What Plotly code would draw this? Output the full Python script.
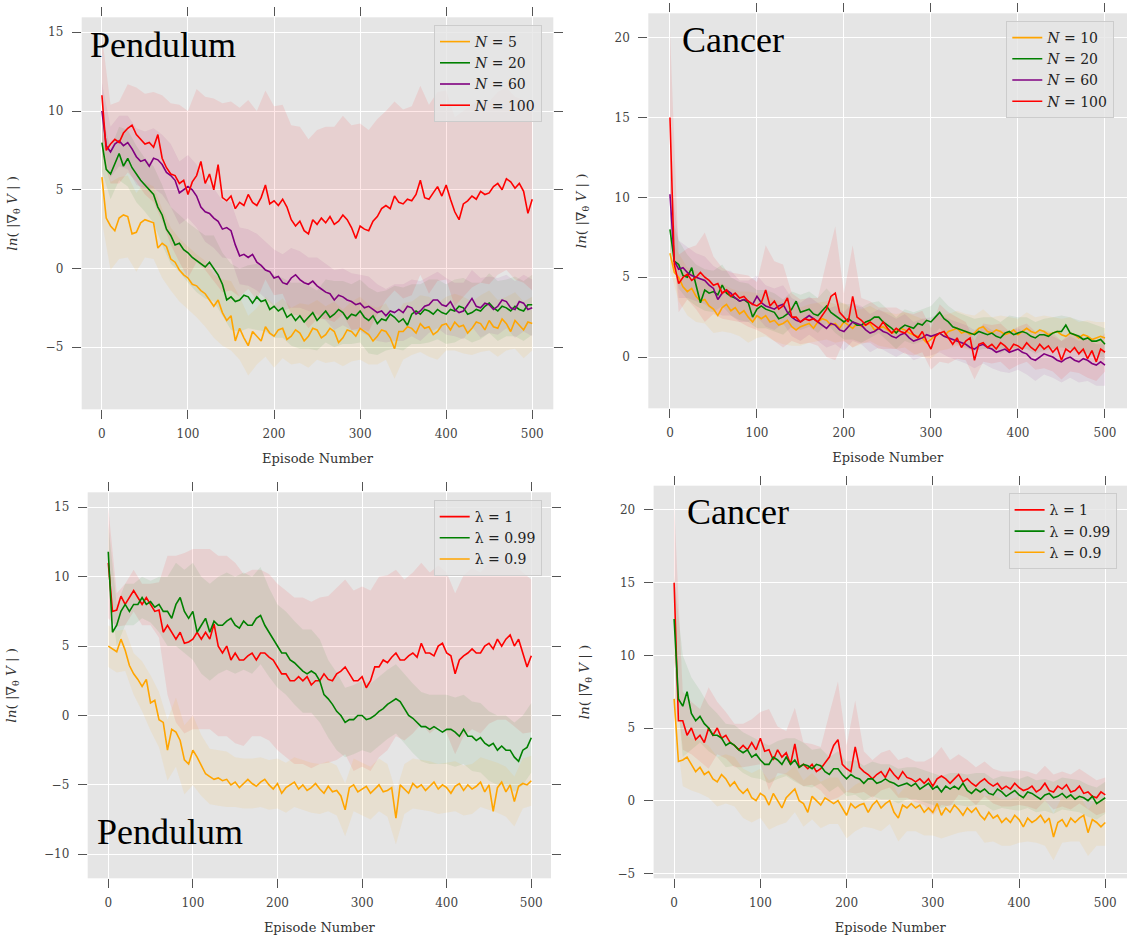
import plotly.graph_objects as go

# ---------------- data ----------------
episodes = list(range(0, 501, 5))          # line samples
band_episodes = list(range(0, 501, 10))    # band samples

# Pendulum, varying N
pend_n5 = [5.8, 3.2, 2.7, 2.4, 3.2, 3.4, 3.3, 2.2, 2.3, 2.9,
           3.1, 3.0, 2.9, 1.3, 1.6, 1.4, 0.6, 0.4, -0.1, -0.4,
           -0.6, -1.0, -1.1, -1.4, -1.6, -2.0, -2.4, -2.0, -2.8, -3.3,
           -3.0, -4.6, -3.8, -4.4, -4.9, -4.0, -4.3, -4.6, -3.7, -4.1,
           -4.3, -3.9, -3.8, -4.5, -4.3, -3.9, -4.1, -4.6, -4.3, -3.8,
           -3.9, -4.4, -4.2, -3.8, -4.0, -4.7, -4.4, -3.9, -4.0, -4.3,
           -3.8, -4.0, -4.2, -4.6, -4.3, -3.9, -4.0, -4.4, -5.1, -4.0,
           -4.0, -3.7, -3.8, -4.1, -3.5, -3.8, -3.7, -4.2, -4.0, -3.6,
           -3.5, -3.9, -3.4, -3.7, -3.6, -4.1, -3.8, -3.4, -3.5, -3.9,
           -3.3, -3.7, -3.8, -3.2, -3.5, -4.0, -3.3, -3.6, -3.9, -3.4,
           -3.5]
pend_n20 = [8.0, 6.3, 6.0, 6.6, 7.3, 6.5, 7.0, 6.4, 6.0, 5.6,
            5.3, 5.0, 4.7, 3.9, 3.4, 2.5, 2.1, 1.5, 1.6, 1.2,
            1.0, 0.7, 0.5, 0.3, 0.1, 0.4, 0.0, -0.4, -1.0, -2.0,
            -1.8, -2.1, -2.0, -1.7, -1.8, -2.2, -1.8, -2.1, -2.0, -2.6,
            -2.4, -2.7, -2.5, -3.1, -2.9, -3.3, -3.0, -3.4, -3.1, -2.8,
            -3.3, -3.0, -2.7, -3.1, -2.9, -2.6, -2.8, -3.2, -2.9, -3.0,
            -2.7, -3.1, -3.3, -3.0, -3.5, -3.2, -3.3, -2.9, -3.1, -3.4,
            -3.2, -3.6, -2.9, -2.7, -2.9, -2.6, -2.7, -2.9, -2.6, -2.8,
            -2.9, -2.6, -2.7, -2.4, -2.5, -2.9, -2.8, -2.6, -2.7, -2.4,
            -2.2, -2.5, -2.7, -2.4, -2.5, -2.7, -2.4, -2.6, -2.7, -2.3,
            -2.3]
pend_n60 = [10.0, 7.8, 7.4, 7.9, 8.1, 7.8, 8.0, 7.6, 7.1, 6.8,
            6.9, 6.5, 7.0, 6.9, 6.6, 6.1, 5.9, 5.6, 4.8, 5.0,
            5.2, 5.0, 4.6, 3.9, 3.6, 3.5, 3.2, 3.0, 2.5, 2.6,
            2.4, 1.5, 0.8, 0.9, 0.7, 0.9, 0.4, 0.2, -0.1, -0.2,
            -0.6, -0.5, -0.9, -1.0, -0.6, -0.4, -0.7, -0.9, -1.0, -0.8,
            -1.1, -1.3, -1.5, -1.6, -2.0, -1.7, -1.8, -2.0, -2.1, -2.3,
            -2.2, -2.5, -2.4, -2.6, -2.8, -2.7, -3.0, -2.7, -2.8, -2.6,
            -2.8, -2.4, -2.5, -2.9, -2.7, -2.4, -2.3, -2.0, -2.0, -2.3,
            -2.4, -2.1, -2.6, -2.8, -2.7, -2.3, -1.9, -2.4, -2.5, -2.2,
            -2.3, -2.6, -2.4, -2.0, -2.1, -2.5, -2.6, -2.1, -2.2, -2.6,
            -2.5]
pend_n100 = [11.0, 7.5, 7.9, 8.2, 8.0, 8.6, 8.9, 9.1, 8.5, 8.2,
             7.9, 8.0, 7.7, 8.5, 7.0, 6.4, 6.0, 5.9, 5.4, 5.6,
             4.7, 5.5, 5.9, 6.8, 5.4, 6.0, 5.0, 6.6, 4.5, 4.3,
             4.6, 3.8, 4.2, 4.0, 4.7, 4.2, 4.0, 4.5, 5.3, 4.1,
             4.3, 4.0, 4.4, 3.9, 3.1, 2.7, 3.0, 2.4, 2.2, 3.1,
             2.8, 3.2, 2.9, 3.3, 2.8, 3.0, 3.4, 3.1, 2.6, 1.9,
             2.7, 2.5, 2.4, 3.0, 3.3, 3.8, 4.0, 3.8, 4.6, 4.2,
             4.1, 4.4, 4.3, 4.7, 5.6, 4.5, 4.4, 4.8, 5.2, 4.6,
             5.3, 4.4, 3.6, 3.1, 4.1, 4.3, 4.6, 4.4, 4.9, 4.7,
             4.8, 5.2, 5.4, 5.0, 5.7, 5.5, 5.1, 5.4, 4.9, 3.5,
             4.4]
sd_pend_n5 = [2.8, 2.8, 2.6, 2.6, 2.5, 2.4, 2.3, 2.2, 2.0, 2.0,
              2.0, 2.0, 2.1, 2.0, 2.1, 2.2, 2.0, 1.9, 1.8, 1.9,
              2.0, 1.9, 1.8, 1.9, 2.0, 1.9, 1.8, 1.9, 1.8, 1.9,
              2.0, 1.9, 1.8, 1.8, 1.9, 1.8, 1.7, 1.8, 1.9, 1.8,
              1.7, 1.8, 1.8, 1.7, 1.8, 1.9, 1.8, 1.7, 1.8, 1.8, 1.7]
sd_pend_n20 = [1.8, 1.6, 1.7, 1.8, 1.8, 1.7, 1.8, 1.9, 1.8, 1.8,
               1.9, 2.0, 2.0, 2.1, 2.0, 2.1, 2.0, 2.0, 2.1, 2.0,
               2.0, 1.9, 2.0, 2.1, 2.0, 1.9, 2.0, 2.1, 2.0, 1.9,
               2.0, 2.1, 2.0, 1.9, 2.0, 2.0, 1.9, 1.9, 2.0, 1.9,
               1.9, 2.0, 1.9, 1.9, 1.8, 1.9, 1.9, 1.8, 1.9, 1.9, 1.9]
sd_pend_n60 = [1.8, 1.6, 1.6, 1.7, 1.8, 1.8, 1.9, 1.9, 2.0, 2.0,
               2.0, 2.0, 1.9, 1.9, 1.8, 1.8, 1.8, 1.8, 1.8, 1.8,
               1.8, 1.8, 1.9, 1.8, 1.7, 1.8, 1.8, 1.9, 1.8, 1.8,
               1.8, 1.9, 1.8, 1.7, 1.8, 1.8, 1.8, 1.9, 1.8, 1.8,
               1.8, 1.7, 1.8, 1.8, 1.9, 1.8, 1.8, 1.7, 1.8, 1.8, 1.8]
sd_pend_n100 = [3.8, 2.5, 2.6, 2.8, 3.0, 3.2, 3.5, 4.0, 4.5, 5.0,
                5.3, 5.5, 5.5, 5.8, 6.0, 6.0, 6.0, 6.0, 6.0, 6.0,
                6.0, 6.0, 6.0, 6.0, 6.0, 6.0, 6.1, 6.2, 6.3, 6.5,
                6.5, 6.4, 6.2, 6.0, 6.0, 6.0, 6.0, 6.0, 6.0, 6.0,
                6.0, 6.0, 5.9, 5.8, 5.8, 5.8, 5.8, 5.8, 5.8, 5.8, 5.8]

# Cancer, varying N
canc_n10 = [6.5, 5.3, 5.0, 4.4, 4.1, 4.3, 3.8, 3.5, 3.6, 3.2,
            3.0, 2.6, 3.1, 3.3, 2.9, 3.1, 2.7, 2.9, 2.5, 2.2,
            2.6, 2.4, 2.6, 2.2, 2.3, 2.0, 2.1, 2.3, 1.9, 1.7,
            1.9, 2.0, 2.1, 1.8, 2.2, 2.4, 2.3, 2.0, 2.1, 1.8,
            2.2, 2.0, 1.8, 2.1, 1.9, 2.0, 2.1, 1.7, 1.8, 1.9,
            1.7, 1.5, 1.6, 1.8, 1.7, 1.5, 1.4, 1.3, 1.2, 0.9,
            1.1, 1.4, 1.5, 1.3, 1.6, 1.7, 1.8, 1.5, 1.6, 1.4,
            1.5, 1.8, 1.9, 1.6, 1.5, 1.7, 1.6, 1.4, 1.5, 1.7,
            1.4, 1.6, 1.8, 1.6, 1.5, 1.7, 1.6, 1.4, 1.5, 1.6,
            1.4, 1.3, 1.5, 1.4, 1.2, 1.4, 1.3, 1.1, 1.2, 1.3,
            1.2]
canc_n20 = [8.0, 6.0, 5.8, 5.1, 5.0, 5.6, 4.5, 3.4, 4.2, 4.0,
            4.1, 3.9, 4.5, 4.0, 3.8, 3.7, 3.5, 3.6, 3.4, 2.5,
            3.0, 3.2, 3.0, 2.9, 2.8, 2.4, 2.5, 2.7, 3.0, 3.5,
            2.8, 2.9, 3.0, 2.7, 2.6, 2.9, 3.2, 2.8, 2.6, 2.4,
            2.2, 2.4, 2.2, 2.0, 2.0, 2.2, 2.3, 2.5, 2.5, 2.2,
            2.0, 1.8, 1.5, 1.8, 2.0, 1.9, 1.8, 2.1, 2.0, 2.3,
            2.2, 2.5, 2.8, 2.4, 2.2, 1.9, 1.8, 1.7, 1.6, 1.5,
            1.4, 1.6, 1.5, 1.4, 1.5, 1.3, 1.2, 1.5, 1.6, 1.4,
            1.5, 1.6, 1.5, 1.3, 1.2, 1.4, 1.4, 1.3, 1.5, 1.6,
            1.6, 2.0, 1.5, 1.4, 1.3, 1.1, 1.2, 1.0, 1.0, 1.1,
            0.8]
canc_n60 = [10.2, 6.0, 5.5, 5.6, 5.3, 5.1, 5.0, 4.9, 4.8, 4.5,
            4.3, 3.6, 4.0, 4.2, 4.0, 3.7, 3.5, 3.6, 3.5, 3.3,
            3.8, 3.4, 3.2, 3.1, 3.0, 3.2, 3.3, 2.8, 2.5, 2.3,
            2.2, 2.4, 2.6, 2.4, 2.2, 2.0, 1.8, 2.1, 2.0, 1.7,
            1.6, 1.9, 2.2, 2.1, 2.0, 1.7, 1.5, 1.6, 1.8, 1.6,
            1.5, 1.3, 1.2, 1.4, 1.5, 1.2, 1.0, 1.1, 1.2, 1.4,
            1.3, 1.4, 1.5, 1.3, 1.2, 1.1, 1.0, 0.9, 0.8, 0.6,
            0.5, 0.7, 0.8, 0.6, 0.5, 0.3, 0.4, 0.5, 0.3, 0.4,
            0.5, 0.3, 0.2, -0.1, -0.2, 0.0, 0.2, 0.1, 0.0, -0.2,
            -0.3, -0.1, 0.0, -0.2, -0.3, -0.1, -0.2, -0.4, -0.5, -0.3,
            -0.5]
canc_n100 = [15.0, 5.8, 4.6, 5.0, 5.2, 4.8, 5.0, 5.3, 5.0, 4.8,
             4.5, 4.6, 4.0, 4.2, 3.8, 4.0, 3.7, 3.8, 3.5, 3.3,
             3.2, 3.4, 4.2, 3.2, 3.5, 3.0, 3.2, 3.7, 2.5, 2.5,
             2.2, 2.4, 2.3, 2.4, 2.2, 2.6, 3.0, 3.8, 4.0, 2.8,
             2.5, 2.2, 3.8, 2.5, 2.3, 2.0, 2.2, 2.0, 1.8, 2.2,
             1.8, 1.5, 1.8, 1.6, 1.5, 1.8, 1.4, 1.2, 1.6, 1.0,
             0.5, 1.3, 1.5, 1.6, 1.2, 0.8, 1.2, 0.6, 1.0, 1.2,
             -0.2, 0.8, 0.9, 0.6, 0.8, 0.5, 0.9, 0.7, 0.4, 0.8,
             0.7, 0.5, 0.9, 0.6, 0.4, 0.8, 0.5, 0.7, 0.3, 0.6,
             -0.2, 0.5, 0.3, 0.6, 0.2, 0.5, -0.1, 0.4, -0.3, 0.5,
             0.3]
sd_canc_n10 = [1.0, 1.5, 1.5, 1.6, 1.5, 1.5, 1.5, 1.4, 1.4, 1.6,
               1.4, 1.3, 1.3, 1.3, 1.2, 1.2, 1.2, 1.2, 1.2, 1.2,
               1.2, 1.2, 1.1, 1.1, 1.1, 1.1, 1.1, 1.1, 1.2, 1.2,
               1.2, 1.1, 1.1, 1.1, 1.1, 1.1, 1.1, 1.0, 1.0, 1.0,
               1.0, 1.0, 1.0, 1.0, 1.0, 1.0, 1.0, 1.0, 1.0, 1.0, 1.0]
sd_canc_n20 = [1.2, 1.5, 1.4, 1.3, 1.3, 1.3, 1.3, 1.2, 1.2, 1.2,
               1.2, 1.2, 1.2, 1.1, 1.1, 1.1, 1.1, 1.1, 1.1, 1.1,
               1.1, 1.1, 1.1, 1.1, 1.0, 1.0, 1.0, 1.0, 1.0, 1.0,
               1.0, 1.0, 1.0, 1.0, 1.0, 1.0, 1.0, 1.0, 1.0, 1.0,
               1.0, 1.0, 1.0, 1.0, 1.0, 1.0, 1.0, 1.0, 1.0, 1.0, 1.0]
sd_canc_n60 = [1.5, 1.8, 1.6, 1.5, 1.5, 1.4, 1.4, 1.4, 1.3, 1.3,
               1.3, 1.3, 1.3, 1.2, 1.2, 1.2, 1.2, 1.2, 1.2, 1.2,
               1.2, 1.2, 1.2, 1.2, 1.2, 1.2, 1.2, 1.2, 1.2, 1.2,
               1.2, 1.2, 1.2, 1.2, 1.2, 1.2, 1.2, 1.2, 1.3, 1.3,
               1.3, 1.3, 1.3, 1.3, 1.3, 1.3, 1.3, 1.3, 1.3, 1.3, 1.3]
sd_canc_n100 = [5.5, 1.8, 1.6, 2.0, 2.8, 1.8, 1.6, 1.5, 1.5, 1.6,
                1.5, 2.8, 2.5, 2.6, 1.5, 1.4, 1.4, 1.5, 3.0, 4.2,
                1.5, 3.2, 1.4, 1.3, 1.3, 1.3, 1.3, 1.3, 1.3, 1.3,
                1.3, 1.8, 1.6, 1.3, 1.2, 1.2, 1.2, 1.2, 1.2, 1.2,
                1.2, 1.2, 1.2, 1.2, 1.2, 1.2, 1.2, 1.2, 1.2, 1.2, 1.2]

# Pendulum, varying lambda
pend_l1 = [11.0, 7.5, 7.6, 8.6, 8.0, 8.5, 9.0, 8.5, 8.0, 8.5,
           8.0, 7.5, 7.6, 6.0, 6.5, 6.0, 5.5, 6.0, 5.2, 5.3,
           5.5, 6.0, 5.5, 6.0, 5.5, 6.6, 5.0, 4.5, 5.0, 4.0,
           4.5, 4.0, 4.0, 4.3, 4.5, 4.0, 4.5, 4.5, 4.2, 4.0,
           3.5, 3.0, 3.0, 2.5, 2.5, 2.8, 2.5, 2.8, 2.2, 2.5,
           2.5, 3.0, 2.6, 2.5, 3.0, 3.2, 3.5, 3.0, 2.5, 2.5,
           2.8, 2.0, 2.5, 3.5, 3.5, 4.0, 3.8, 4.2, 4.5, 4.0,
           4.0, 4.3, 4.5, 4.2, 5.2, 4.5, 4.5, 4.3, 5.0, 5.2,
           4.5, 4.3, 3.0, 4.0, 4.3, 4.5, 4.8, 4.5, 4.5, 5.0,
           5.2, 4.8, 5.5, 5.0, 5.5, 5.8, 5.0, 5.5, 4.5, 3.5,
           4.3]
pend_l099 = [11.8, 6.0, 6.5, 7.5, 8.0, 7.5, 8.0, 8.0, 8.5, 8.0,
             8.2, 7.8, 8.0, 7.5, 7.5, 7.0, 8.0, 8.5, 7.5, 7.0,
             7.5, 6.0, 6.5, 7.0, 6.0, 6.8, 6.5, 6.5, 6.8, 7.0,
             6.5, 6.3, 6.8, 6.5, 6.5, 7.0, 7.2, 6.5, 6.0, 5.5,
             5.0, 4.5, 4.5, 4.0, 3.8, 3.5, 3.2, 3.0, 3.2, 3.0,
             2.5, 1.5, 1.2, 0.8, 0.3, 0.0, -0.5, -0.3, -0.3, 0.0,
             0.0, -0.3, -0.2, 0.0, 0.3, 0.5, 0.8, 1.0, 1.2, 1.0,
             0.5, 0.0, -0.2, -0.5, -0.8, -0.8, -1.0, -0.8, -1.0, -1.2,
             -1.0, -1.0, -1.2, -1.5, -1.0, -1.5, -1.5, -1.8, -1.6, -2.0,
             -2.2, -2.0, -2.5, -2.2, -2.5, -2.5, -3.0, -3.3, -2.5, -2.3,
             -1.6]
pend_l09 = [5.0, 4.8, 4.6, 5.5, 4.7, 3.6, 3.0, 2.6, 2.1, 2.6,
            0.9, 1.1, -0.3, -0.5, -2.5, -1.0, -1.2, -1.8, -3.2, -3.5,
            -2.5, -3.0, -3.6, -4.2, -4.4, -4.6, -4.5, -4.7, -4.6, -5.0,
            -4.8, -5.2, -4.9, -4.6, -4.9, -5.1, -4.8, -4.6, -5.0, -5.3,
            -4.9, -5.6, -5.2, -5.0, -4.8, -5.3, -5.0, -5.4, -5.2, -4.9,
            -5.3, -5.6, -5.1, -5.5, -5.4, -5.8, -6.8, -5.2, -5.0, -5.5,
            -5.3, -5.1, -5.6, -5.3, -5.0, -5.5, -5.4, -5.2, -7.4, -5.0,
            -5.3, -5.6, -4.9, -5.2, -5.0, -5.4, -5.1, -4.8, -5.3, -5.0,
            -5.2, -5.6, -5.1, -4.9, -5.4, -5.0, -5.3, -5.1, -4.8, -5.5,
            -5.0, -6.9, -5.2, -4.8, -5.5, -5.0, -6.2, -5.1, -4.9, -5.0,
            -4.7]
sd_pend_l1 = [4.0, 1.2, 1.5, 1.5, 1.5, 1.5, 2.0, 5.0, 6.0, 6.5,
              6.5, 6.5, 6.5, 6.5, 6.5, 6.5, 6.2, 6.0, 6.0, 6.0,
              6.0, 6.0, 6.0, 6.0, 6.0, 6.0, 6.0, 6.2, 6.3, 6.5,
              6.5, 6.5, 6.5, 6.3, 6.0, 5.8, 5.8, 5.8, 5.8, 5.8,
              5.8, 5.8, 5.8, 5.8, 5.8, 5.8, 5.8, 5.8, 5.8, 5.8, 5.5]
sd_pend_l099 = [2.0, 1.5, 1.5, 1.5, 1.5, 1.5, 2.0, 2.5, 3.0, 3.0,
                3.5, 3.5, 3.5, 3.5, 3.5, 3.5, 3.5, 3.5, 3.5, 3.2,
                3.0, 3.0, 3.0, 3.0, 3.0, 3.0, 2.8, 2.8, 2.5, 2.5,
                2.5, 2.5, 2.5, 2.5, 2.5, 2.5, 2.5, 2.5, 2.5, 2.5,
                2.5, 2.5, 2.5, 2.5, 2.5, 2.5, 2.5, 2.5, 2.5, 2.5, 2.5]
sd_pend_l09 = [1.5, 1.5, 1.5, 1.5, 1.8, 2.0, 2.0, 2.2, 2.5, 2.5,
               2.5, 2.2, 2.0, 2.0, 2.0, 1.8, 1.8, 1.8, 1.8, 1.8,
               1.8, 1.8, 1.8, 1.8, 1.8, 1.8, 1.8, 1.8, 1.9, 1.9,
               1.9, 1.9, 1.9, 1.9, 1.9, 1.8, 1.8, 1.8, 1.8, 1.8,
               1.8, 1.8, 1.8, 1.8, 1.8, 1.8, 1.8, 1.8, 1.8, 1.8, 1.8]

# Cancer, varying lambda
canc_l1 = [15.0, 5.5, 5.5, 4.5, 5.0, 4.2, 4.5, 4.0, 5.0, 4.5,
           5.0, 4.3, 4.5, 4.0, 3.8, 3.5, 3.8, 3.5, 4.0, 3.5,
           4.3, 3.4, 3.5, 2.8, 3.5, 3.0, 3.3, 2.5, 3.9, 2.3,
           2.5, 2.2, 2.5, 2.0, 2.2, 2.6, 3.0, 3.8, 4.2, 2.5,
           2.2, 2.0, 3.7, 2.3, 2.0, 1.8, 1.5, 1.8, 2.0, 1.6,
           2.2, 1.8, 1.5, 2.0, 1.6, 1.5, 1.3, 1.5, 1.2, 1.5,
           1.0, 1.5, 1.7, 1.5, 1.2, 1.5, 1.8, 1.3, 1.5, 1.2,
           1.0, 1.3, 1.5, 1.2, 1.0, 1.2, 0.8, 1.0, 0.8, 1.2,
           0.9, 0.7, 0.8, 1.0, 0.6, 0.8, 1.2, 0.7, 0.6, 1.0,
           0.8, 1.1, 0.6, 0.7, 1.0, 0.5, 0.6, 0.3, 0.2, 0.6,
           0.4]
canc_l099 = [12.5, 7.0, 6.5, 7.5, 6.0, 5.5, 5.8, 5.3, 5.0, 4.5,
             4.5, 4.3, 3.8, 4.0, 3.8, 3.5, 3.3, 3.5, 3.0, 3.2,
             2.8, 2.5, 2.5, 3.0, 2.8, 2.5, 3.0, 2.5, 2.8, 2.3,
             2.5, 2.4, 2.2, 2.5, 2.4, 2.0, 1.8, 2.2, 2.2, 1.8,
             1.5, 1.8, 1.6, 1.5, 1.2, 1.5, 1.5, 1.2, 1.3, 1.5,
             1.3, 1.2, 1.0, 1.1, 1.2, 1.0, 1.2, 0.8, 1.0, 1.2,
             0.8, 1.0, 0.6, 1.0, 0.8, 1.0, 0.8, 1.2, 0.7, 0.5,
             0.8, 0.6, 0.8, 0.5, 0.4, 0.8, 0.6, 0.3, 0.5, 0.7,
             0.4, 0.2, 0.6, 0.5, 0.3, 0.1, 0.4, 0.5, 0.2, 0.3,
             0.5, 0.2, 0.4, 0.1, 0.3, 0.2, 0.0, 0.3, -0.2, 0.0,
             0.2]
canc_l09 = [7.0, 2.7, 2.8, 3.0, 2.5, 2.0, 2.3, 1.8, 2.0, 1.5,
            1.3, 1.8, 1.5, 1.0, 1.3, 0.8, 0.5, 0.8, 0.2, 0.0,
            0.5, 0.3, -0.3, 0.5, 0.0, -0.5, 0.2, 0.5, 0.8, 0.0,
            -0.2, -0.8, 0.3, 0.0, -0.3, 0.2, 0.0, -0.2, 0.0, -0.5,
            -1.0, -0.2, -0.5, -0.3, -0.2, -0.8, -0.3, 0.0, -0.5, -0.2,
            0.0, -0.8, -1.2, -0.3, -0.5, -0.2, -0.5, -0.3, -0.8, -0.5,
            -0.8, -0.2, -1.0, -0.5, -0.8, -0.3, -0.6, -1.0, -0.5, -0.8,
            -0.5, -1.0, -1.3, -0.8, -1.2, -1.0, -1.5, -1.2, -1.5, -1.0,
            -1.3, -1.8, -1.2, -1.5, -1.3, -1.0, -1.5, -1.2, -2.5, -1.5,
            -1.3, -1.8, -1.2, -1.5, -1.2, -1.0, -2.2, -1.3, -1.5, -1.8,
            -1.5]
sd_canc_l1 = [5.5, 2.0, 1.8, 1.8, 2.8, 1.8, 1.6, 1.5, 1.5, 1.6,
              1.8, 2.8, 1.6, 1.5, 2.5, 1.5, 1.4, 1.5, 3.0, 4.0,
              1.6, 3.2, 1.4, 1.3, 1.3, 1.3, 1.3, 1.4, 1.4, 1.5,
              2.0, 2.0, 1.6, 1.4, 1.3, 1.3, 1.2, 1.2, 1.2, 1.2,
              1.2, 1.2, 1.2, 1.2, 1.2, 1.2, 1.2, 1.2, 1.2, 1.2, 1.2]
sd_canc_l099 = [3.0, 3.5, 2.5, 1.8, 1.6, 1.5, 1.5, 1.4, 1.4, 1.4,
                1.3, 1.3, 1.3, 1.3, 1.5, 1.5, 1.3, 1.2, 1.2, 1.2,
                1.2, 1.2, 1.2, 1.2, 1.2, 1.2, 1.2, 1.1, 1.1, 1.1,
                1.1, 1.1, 1.1, 1.1, 1.1, 1.1, 1.1, 1.1, 1.1, 1.1,
                1.1, 1.1, 1.1, 1.1, 1.1, 1.1, 1.1, 1.1, 1.1, 1.1, 1.1]
sd_canc_l09 = [1.0, 1.8, 1.8, 1.8, 1.8, 1.7, 1.7, 1.7, 1.7, 1.7,
               1.7, 1.7, 1.7, 1.7, 1.6, 1.6, 1.6, 1.6, 1.6, 1.6,
               1.6, 1.6, 1.6, 1.6, 1.6, 1.6, 1.6, 1.6, 1.6, 1.6,
               1.6, 1.6, 1.6, 1.6, 1.6, 1.6, 1.6, 1.6, 1.6, 1.6,
               1.6, 1.6, 1.6, 1.6, 1.6, 1.6, 1.6, 1.6, 1.6, 1.6, 1.6]

x_ticks = [0, 100, 200, 300, 400, 500]
y_ticks_tl = [-5, 0, 5, 10, 15]
y_ticks_tr = [0, 5, 10, 15, 20]
y_ticks_bl = [-10, -5, 0, 5, 10, 15]
y_ticks_br = [-5, 0, 5, 10, 15, 20]

x_title = "Episode Number"
y_title = "<i>ln</i>( |∇<sub>θ</sub> <i>V</i> | )"

# ---------------- styling ----------------
ORANGE, GREEN, PURPLE, RED = "#FFA500", "#008000", "#800080", "#FF0000"
FILL = {ORANGE: "rgba(255,165,0,0.09)", GREEN: "rgba(0,128,0,0.08)",
        PURPLE: "rgba(128,0,128,0.08)", RED: "rgba(255,0,0,0.09)"}
W, H = 1127, 935
TICK_FONT = dict(family="DejaVu Serif", size=12, color="#444444")
XLAB_FONT = dict(family="DejaVu Serif", size=13, color="#333333")
YLAB_FONT = dict(family="DejaVu Serif", size=13.5, color="#333333")

panels = [
    dict(ax="", legend="legend", series=[
        ("<i>N</i> = 5", ORANGE, pend_n5, sd_pend_n5),
        ("<i>N</i> = 20", GREEN, pend_n20, sd_pend_n20),
        ("<i>N</i> = 60", PURPLE, pend_n60, sd_pend_n60),
        ("<i>N</i> = 100", RED, pend_n100, sd_pend_n100)]),
    dict(ax="2", legend="legend2", series=[
        ("<i>N</i> = 10", ORANGE, canc_n10, sd_canc_n10),
        ("<i>N</i> = 20", GREEN, canc_n20, sd_canc_n20),
        ("<i>N</i> = 60", PURPLE, canc_n60, sd_canc_n60),
        ("<i>N</i> = 100", RED, canc_n100, sd_canc_n100)]),
    dict(ax="3", legend="legend3", series=[
        ("λ = 1", RED, pend_l1, sd_pend_l1),
        ("λ = 0.99", GREEN, pend_l099, sd_pend_l099),
        ("λ = 0.9", ORANGE, pend_l09, sd_pend_l09)]),
    dict(ax="4", legend="legend4", series=[
        ("λ = 1", RED, canc_l1, sd_canc_l1),
        ("λ = 0.99", GREEN, canc_l099, sd_canc_l099),
        ("λ = 0.9", ORANGE, canc_l09, sd_canc_l09)]),
]

fig = go.Figure()
for p in panels:
    xa, ya = "x" + p["ax"], "y" + p["ax"]
    for name, col, vals, sd in p["series"]:
        centre = vals[::2][:len(sd)]
        xb = band_episodes[:len(sd)]
        upper = [c + s for c, s in zip(centre, sd)]
        lower = [c - s for c, s in zip(centre, sd)]
        fig.add_trace(go.Scatter(
            x=xb + xb[::-1], y=upper + lower[::-1], fill="toself",
            fillcolor=FILL[col], line=dict(width=0), mode="lines",
            hoverinfo="skip", showlegend=False, xaxis=xa, yaxis=ya))
    for name, col, vals, sd in p["series"]:
        fig.add_trace(go.Scatter(
            x=episodes, y=vals, mode="lines", name=name,
            line=dict(color=col, width=1.6), xaxis=xa, yaxis=ya,
            legend=p["legend"]))

def px_x(v):
    return v / W

def px_y(v):
    return 1 - v / H

axis_common = dict(showgrid=True, gridcolor="white", gridwidth=1,
                   zeroline=False, showline=False, ticks="outside",
                   ticklen=9, tickwidth=1, tickcolor="#555555",
                   mirror="ticks", tickfont=TICK_FONT, automargin=False)

geo = {
    "":  dict(x=(81.7, 553.3), y=(17.3, 409.3), xr=[-23.5, 524.5], yr=[-8.94, 15.95], yt=y_ticks_tl),
    "2": dict(x=(648.3, 1127), y=(13.3, 408.3), xr=[-24.9, 525.3], yr=[-3.21, 21.53], yt=y_ticks_tr),
    "3": dict(x=(87.7, 551.0), y=(492.3, 878.3), xr=[-24.3, 523.3], yr=[-11.73, 16.08], yt=y_ticks_bl),
    "4": dict(x=(653.6, 1127), y=(485.7, 878.3), xr=[-23.8, 525.2], yr=[-5.34, 21.67], yt=y_ticks_br),
}
layout = {}
for k, g in geo.items():
    layout["xaxis" + k] = dict(axis_common, domain=[px_x(g["x"][0]), px_x(g["x"][1])],
                               range=g["xr"], tickvals=x_ticks, anchor="y" + k,
                               ticklabelstandoff=4,
                               title=dict(text=x_title, font=XLAB_FONT, standoff=14))
    layout["yaxis" + k] = dict(axis_common, domain=[px_y(g["y"][1]), px_y(g["y"][0])],
                               range=g["yr"], tickvals=g["yt"], anchor="x" + k,
                               ticklabelstandoff=6,
                               title=dict(text=y_title, font=YLAB_FONT, standoff=24))

legend_common = dict(xanchor="right", yanchor="top", bgcolor="rgba(229,229,229,0.8)",
                     bordercolor="#cccccc", borderwidth=1,
                     font=dict(family="DejaVu Serif", size=14, color="#222222"),
                     tracegroupgap=0)
layout["legend"] = dict(legend_common, x=px_x(542), y=px_y(25))
layout["legend2"] = dict(legend_common, x=px_x(1114.3), y=px_y(21))
layout["legend3"] = dict(legend_common, x=px_x(541.7), y=px_y(500))
layout["legend4"] = dict(legend_common, x=px_x(1116.6), y=px_y(493.3))

ann = []
title_font = dict(family="Liberation Serif", size=36, color="black")
for txt, x, y in [("Pendulum", 88, 45), ("Cancer", 680, 40),
                  ("Pendulum", 95, 832.3), ("Cancer", 684.5, 512)]:
    ann.append(dict(text=txt, x=px_x(x), y=px_y(y), xref="paper", yref="paper",
                    xanchor="left", yanchor="middle", showarrow=False, font=title_font))

fig.update_layout(width=W, height=H, margin=dict(l=0, r=0, t=0, b=0),
                  paper_bgcolor="white", plot_bgcolor="#E5E5E5",
                  annotations=ann, **layout)
fig.write_html("out.html")
